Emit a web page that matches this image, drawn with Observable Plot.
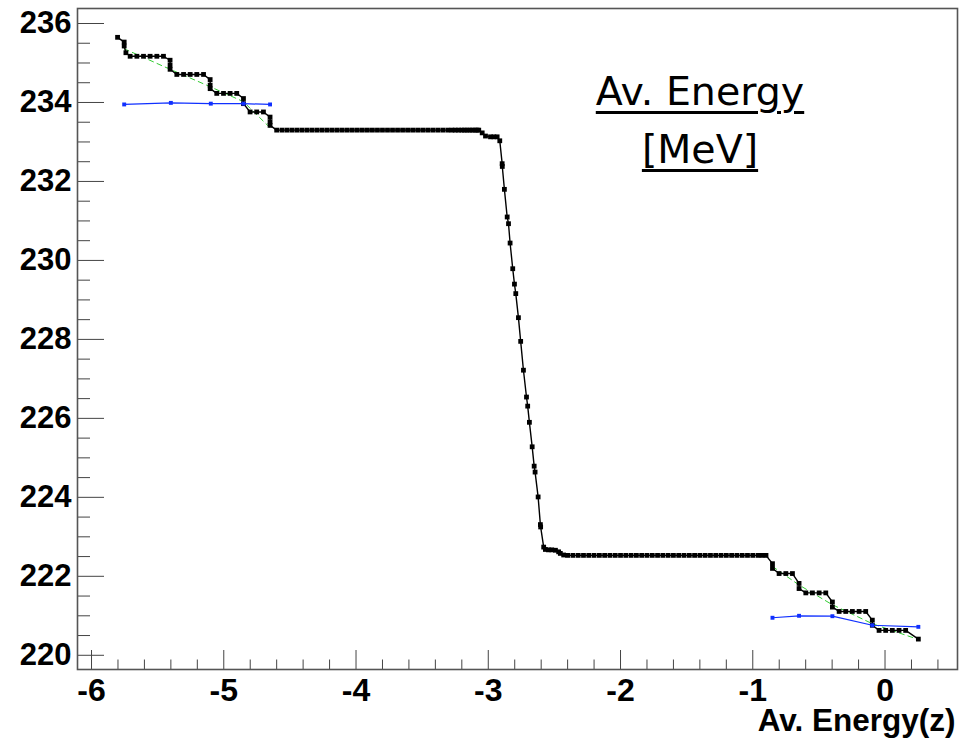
<!DOCTYPE html>
<html><head><meta charset="utf-8">
<script src="https://cdn.jsdelivr.net/npm/d3@7"></script>
<script src="https://cdn.jsdelivr.net/npm/@observablehq/plot@0.6"></script>
<style>
body{margin:0;background:#fff}
#wrap{position:relative;width:964px;height:738px}
#title{position:absolute;left:550px;top:62px;width:300px;text-align:center;font-family:"DejaVu Sans";font-size:39.5px;line-height:58px;color:#000}
#title span{text-decoration:underline;text-decoration-thickness:2.5px;text-underline-offset:6px}
</style></head><body>
<div id="wrap"><div id="chart"></div><div id="title"><span>Av. Energy</span><br><span>[MeV]</span></div></div>
<script>
// ---- data ----
const blackLeftSteps = [
  [-5.803,235.65],[-5.753,235.53],[-5.753,235.43],[-5.740,235.26],
  [-5.708,235.17],[-5.657,235.17],[-5.607,235.17],[-5.557,235.17],[-5.506,235.17],[-5.456,235.17],
  [-5.406,235.07],[-5.406,234.94],[-5.406,234.84],
  [-5.355,234.71],[-5.304,234.71],[-5.254,234.71],[-5.204,234.71],[-5.153,234.71],
  [-5.103,234.58],[-5.103,234.44],[-5.103,234.35],
  [-5.053,234.23],[-5.002,234.23],[-4.952,234.23],[-4.902,234.23],
  [-4.851,234.10],[-4.851,233.97],
  [-4.801,233.76],[-4.751,233.76],[-4.700,233.76],
  [-4.650,233.63],[-4.650,233.51],[-4.650,233.42]
];
const blackUpperPlateau = [
  [-4.600,233.30],[-4.560,233.30],[-4.522,233.30],[-4.484,233.30],[-4.446,233.30],[-4.408,233.30],
  [-4.370,233.30],[-4.332,233.30],[-4.294,233.30],[-4.256,233.30],[-4.218,233.30],[-4.180,233.30],
  [-4.142,233.30],[-4.104,233.30],[-4.066,233.30],[-4.028,233.30],[-3.990,233.30],[-3.952,233.30],
  [-3.914,233.30],[-3.876,233.30],[-3.838,233.30],[-3.800,233.30],[-3.762,233.30],[-3.724,233.30],
  [-3.686,233.30],[-3.648,233.30],[-3.610,233.30],[-3.572,233.30],[-3.534,233.30],[-3.496,233.30],
  [-3.458,233.30],[-3.420,233.30],[-3.382,233.30],[-3.344,233.30],[-3.306,233.30],[-3.275,233.30],
  [-3.250,233.30],[-3.225,233.30],[-3.200,233.30],[-3.180,233.30],[-3.160,233.30],[-3.140,233.30],
  [-3.120,233.30],[-3.100,233.30],[-3.085,233.30],[-3.072,233.30]
];
const blackDrop = [
  [-3.046,233.23],[-3.021,233.15],[-2.983,233.13],[-2.958,233.13],[-2.933,233.13],[-2.913,233.03],
  [-2.895,232.45],[-2.894,232.38],[-2.878,231.80],[-2.857,231.10],[-2.847,230.93],[-2.835,230.44],
  [-2.815,229.79],[-2.802,229.40],[-2.792,229.16],[-2.772,228.55],[-2.755,227.95],[-2.734,227.22],
  [-2.711,226.54],[-2.702,226.31],[-2.689,225.90],[-2.668,225.28],[-2.653,224.79],[-2.646,224.64],
  [-2.623,224.01],[-2.606,223.31],[-2.604,223.25],[-2.581,222.74],[-2.568,222.68],[-2.545,222.67],
  [-2.520,222.67],[-2.492,222.66],[-2.468,222.62],[-2.455,222.58],[-2.430,222.54]
];
const blackLowerPlateau = [
  [-2.40,222.53],[-2.36,222.53],[-2.32,222.53],[-2.28,222.53],[-2.24,222.53],[-2.20,222.53],
  [-2.16,222.53],[-2.12,222.53],[-2.08,222.53],[-2.04,222.53],[-2.00,222.53],[-1.96,222.53],
  [-1.92,222.53],[-1.88,222.53],[-1.84,222.53],[-1.80,222.53],[-1.76,222.53],[-1.72,222.53],
  [-1.68,222.53],[-1.64,222.53],[-1.60,222.53],[-1.56,222.53],[-1.52,222.53],[-1.48,222.53],
  [-1.44,222.53],[-1.40,222.53],[-1.36,222.53],[-1.32,222.53],[-1.28,222.53],[-1.24,222.53],
  [-1.20,222.53],[-1.16,222.53],[-1.12,222.53],[-1.08,222.53],[-1.04,222.53],[-1.00,222.53],
  [-0.96,222.53],[-0.93,222.53],[-0.90,222.53]
];
const blackRightSteps = [
  [-0.851,222.32],[-0.851,222.20],
  [-0.801,222.07],[-0.750,222.07],[-0.700,222.07],
  [-0.650,221.82],[-0.650,221.69],
  [-0.599,221.58],[-0.549,221.58],[-0.498,221.58],[-0.448,221.58],
  [-0.398,221.35],[-0.398,221.22],
  [-0.347,221.11],[-0.297,221.11],[-0.247,221.11],[-0.196,221.11],[-0.146,221.11],
  [-0.096,220.89],[-0.096,220.76],
  [-0.045,220.63],[0.005,220.63],[0.055,220.63],[0.106,220.63],[0.156,220.63],
  [0.252,220.41]
];
const greenLeft  = [[-5.753,235.36],[-5.406,234.84],[-5.103,234.40],[-4.851,234.02],[-4.650,233.36]];
const greenRight = [[-0.851,222.25],[-0.650,221.78],[-0.398,221.28],[-0.096,220.80],[0.252,220.40]];
const blueLeft   = [[-5.753,233.95],[-5.400,233.99],[-5.098,233.97],[-4.851,233.97],[-4.650,233.95]];
const blueRight  = [[-0.851,220.95],[-0.650,221.00],[-0.398,220.99],[-0.096,220.76],[0.252,220.72]];

const xTicks = [-6,-5,-4,-3,-2,-1,0];
const xTickLabels = ["-6","-5","-4","-3","-2","-1","0"];
const yTicks = [220,222,224,226,228,230,232,234,236];
const yTickLabels = ["220","222","224","226","228","230","232","234","236"];
const xTitle = "Av. Energy(z)";

// ---- build ----
const toRows = (arr, s) => arr.map(([x, y]) => ({x, y, s}));
const black = toRows([...blackLeftSteps, ...blackUpperPlateau, ...blackDrop, ...blackLowerPlateau, ...blackRightSteps], "black");
const green = [...toRows(greenLeft, "L"), ...toRows(greenRight, "R")];
const blue = [...toRows(blueLeft, "L"), ...toRows(blueRight, "R")];

const xMinor = d3.range(-30, 3).map(i => +(i * 0.2).toFixed(1)).filter(v => !xTicks.includes(v));
const yMinor = d3.range(440, 473).map(i => +(i * 0.5).toFixed(1)).filter(v => !yTicks.includes(v) && v > 219.7 && v < 236.3);

const tickFont = "Liberation Sans, Arial, Helvetica, sans-serif";
const tickColor = "#444";

const chart = Plot.plot({
  width: 964,
  height: 738,
  marginLeft: 77,
  marginRight: 7,
  marginTop: 8,
  marginBottom: 69,
  style: {background: "#fff", fontFamily: tickFont},
  x: {domain: [-6.106, 0.548]},
  y: {domain: [219.64, 236.38]},
  marks: [
    Plot.line(green, {x: "x", y: "y", z: "s", stroke: "#33cc33", strokeWidth: 1, strokeDasharray: "5,4"}),
    Plot.line(black, {x: "x", y: "y", stroke: "#000", strokeWidth: 1.4}),
    Plot.dot(black, {x: "x", y: "y", symbol: "square", r: 2.7, fill: "#000", stroke: "none"}),
    Plot.line(blue, {x: "x", y: "y", z: "s", stroke: "#1030ff", strokeWidth: 1.2}),
    Plot.dot(blue, {x: "x", y: "y", symbol: "square", r: 2.2, fill: "#1030ff", stroke: "none"}),
    // ticks (inside, ROOT style)
    Plot.axisX({ticks: xTicks, tickSize: -19, text: null, label: null, stroke: tickColor}),
    Plot.axisX({ticks: xMinor, tickSize: -9.5, text: null, label: null, stroke: tickColor}),
    Plot.axisY({ticks: yTicks, tickSize: -27, text: null, label: null, stroke: tickColor}),
    Plot.axisY({ticks: yMinor, tickSize: -13, text: null, label: null, stroke: tickColor}),
    // tick labels
    Plot.axisX({ticks: xTicks, tickSize: 0, tickPadding: 9, tickFormat: (d, i) => xTickLabels[i], label: null,
      fontSize: 32, fontWeight: "bold", fill: "#000"}),
    Plot.axisY({ticks: yTicks, tickSize: 0, tickPadding: 6, tickFormat: (d, i) => yTickLabels[i], label: null,
      fontSize: 31, fontWeight: "bold", fill: "#000"}),
    Plot.text([xTitle], {frameAnchor: "bottom-right", text: d => d, textAnchor: "end", lineAnchor: "bottom",
      dy: 61, dx: -2, fontSize: 31.5, fontWeight: "bold", fill: "#000"}),
    Plot.frame({stroke: "#555", strokeWidth: 1.6})
  ]
});
document.getElementById("chart").appendChild(chart);
</script>
</body></html>
